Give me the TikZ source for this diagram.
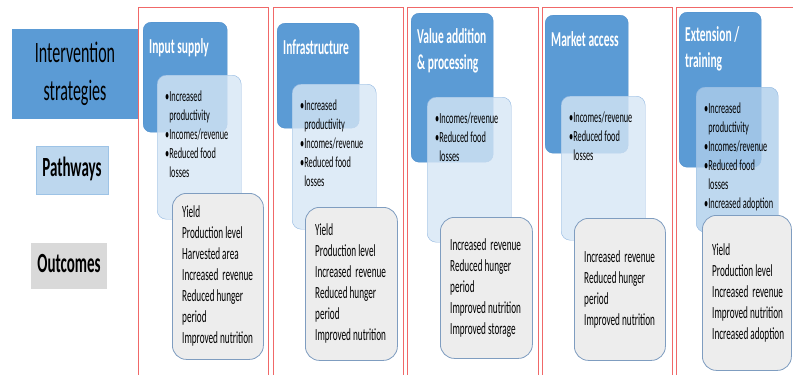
\documentclass[tikz,border=0pt]{standalone}
\usepackage{fontspec}
\setmainfont{Carlito}
\usepackage{graphicx}
\usetikzlibrary{positioning}

\definecolor{stratblue}{HTML}{5B9BD5}
\definecolor{stratedge}{HTML}{4F8ECB}
\definecolor{pathfill}{HTML}{D6E6F5}
\definecolor{pathdark}{HTML}{AECEEB}
\definecolor{pathedge}{HTML}{8FB6E0}
\definecolor{lblblue}{HTML}{BDD7EE}
\definecolor{lbledge}{HTML}{9DC3E6}
\definecolor{outfill}{HTML}{EDEDED}
\definecolor{outedge}{HTML}{7F9DC0}
\definecolor{lblgray}{HTML}{D9D9D9}
\definecolor{framered}{HTML}{F06868}

% tall narrow text block, like the stretched original
\newcommand{\tallrows}[2][l]{\scalebox{1}[1.85]{\begin{tabular}{@{}#1@{}}#2\end{tabular}}}
\newcommand{\bitem}{\textbullet}
\newcommand{\bcont}{\hphantom{\textbullet}}

\tikzset{
  frame/.style={draw=framered, line width=0.9pt},
  lblbox/.style={inner sep=0, font=\fontsize{15}{17}\selectfont\bfseries},
  stratbox/.style={draw=stratedge, fill=stratblue, rounded corners=8pt, anchor=north west, inner sep=0},
  headtext/.style={text=white, inner sep=0, font=\fontsize{11.5}{14.1}\selectfont\bfseries},
  pathbox/.style={draw=pathedge, fill=pathfill, fill opacity=0.8, rounded corners=9pt, anchor=north west, inner sep=0},
  pathtext/.style={inner sep=0, font=\fontsize{8.3}{10.3}\selectfont},
  outbox/.style={draw=outedge, fill=outfill, line width=0.8pt, rounded corners=14pt, anchor=north west, inner sep=0},
  outtext/.style={inner sep=0, font=\fontsize{9.2}{11.35}\selectfont},
}

\begin{document}
\begin{tikzpicture}[x=1pt, y=-1pt]
  \useasboundingbox (0,0) rectangle (793,375);

  % row labels
  \node[lblbox, fill=stratblue, minimum width=126pt, minimum height=90pt, font=\fontsize{16}{20.5}\selectfont] (strat) at (75,74) {\tallrows[c]{Intervention\\strategies}};
  \node[lblbox, fill=lblblue, draw=lbledge, minimum width=72pt, minimum height=48pt] (pathlbl) at (72,170) {\tallrows{Pathways}};
  \node[lblbox, fill=lblgray, minimum width=76pt, minimum height=46pt] (outlbl) at (69,266) {\tallrows{Outcomes}};

  % input supply
  \node[stratbox, minimum width=84pt, minimum height=110pt] (s1) at (143,22) {};
  \node[headtext, below right=13pt and 6pt of s1.north west] (s1t) {\tallrows{Input supply}};
  \node[pathbox, minimum width=84pt, minimum height=144pt] (p1) at (157,75) {};
  \node[pathtext, below right=12.5pt and 8pt of p1.north west] (p1t) {\tallrows{\bitem Increased\\ \bcont productivity\\ \bitem Incomes/revenue\\ \bitem Reduced food\\ \bcont losses}};
  \node[outbox, minimum width=91pt, minimum height=166pt] (o1) at (172,193) {};
  \node[outtext, right=10pt of o1.west] (o1t) {\tallrows{Yield\\ Production level\\ Harvested area\\ Increased~ revenue\\ Reduced hunger\\ period\\ Improved nutrition}};

  % infrastructure
  \node[stratbox, minimum width=82pt, minimum height=105pt] (s2) at (277,23) {};
  \node[headtext, below right=13pt and 6pt of s2.north west] (s2t) {\tallrows{Infrastructure}};
  \node[pathbox, minimum width=84pt, minimum height=145pt] (p2) at (292,84) {};
  \node[pathtext, below right=12.5pt and 8pt of p2.north west] (p2t) {\tallrows{\bitem Increased\\ \bcont productivity\\ \bitem Incomes/revenue\\ \bitem Reduced food\\ \bcont losses}};
  \node[outbox, minimum width=92pt, minimum height=153pt] (o2) at (305,207) {};
  \node[outtext, right=10pt of o2.west] (o2t) {\tallrows{Yield\\ Production level\\ Increased~ revenue\\ Reduced hunger\\ period\\ Improved nutrition}};

  % value addition
  \node[stratbox, minimum width=82pt, minimum height=149pt] (s3) at (411,13) {};
  \node[headtext, below right=12pt and 6pt of s3.north west] (s3t) {\tallrows{Value addition\\ \& processing}};
  \node[pathbox, minimum width=84pt, minimum height=145pt] (p3) at (427,97) {};
  \node[pathtext, below right=13pt and 8pt of p3.north west] (p3t) {\tallrows{\bitem Incomes/revenue\\ \bitem Reduced food\\ \bcont losses}};
  \node[outbox, minimum width=92pt, minimum height=141pt] (o3) at (440,217) {};
  \node[outtext, right=10pt of o3.west] (o3t) {\tallrows{Increased~ revenue\\ Reduced hunger\\ period\\ Improved nutrition\\ Improved storage}};

  % market access
  \node[stratbox, minimum width=83pt, minimum height=138pt] (s4) at (545,15) {};
  \node[headtext, below right=13pt and 6pt of s4.north west] (s4t) {\tallrows{Market access}};
  \node[pathbox, minimum width=84pt, minimum height=144pt] (p4) at (561,96) {};
  \node[pathtext, below right=13pt and 8pt of p4.north west] (p4t) {\tallrows{\bitem Incomes/revenue\\ \bitem Reduced food\\ \bcont losses}};
  \node[outbox, minimum width=91pt, minimum height=142pt] (o4) at (574,218) {};
  \node[outtext, right=10pt of o4.west] (o4t) {\tallrows{Increased~ revenue\\ Reduced hunger\\ period\\ Improved nutrition}};

  % extension / training
  \node[stratbox, minimum width=82pt, minimum height=155pt] (s5) at (679,12) {};
  \node[headtext, below right=11pt and 6pt of s5.north west] (s5t) {\tallrows{Extension /\\ training}};
  \node[pathbox, fill=pathdark, minimum width=82pt, minimum height=145pt] (p5) at (696,87) {};
  \node[pathtext, below right=12.5pt and 8pt of p5.north west] (p5t) {\tallrows{\bitem Increased\\ \bcont productivity\\ \bitem Incomes/revenue\\ \bitem Reduced food\\ \bcont losses\\ \bitem Increased adoption}};
  \node[outbox, minimum width=89pt, minimum height=155pt] (o5) at (702,215) {};
  \node[outtext, right=10pt of o5.west] (o5t) {\tallrows{Yield\\ Production level\\ Increased~ revenue\\ Improved nutrition\\ Increased adoption}};

  % column frames
  \draw[frame] (138,375) -- (138,7) -- (268,7) -- (268,375);
  \draw[frame] (273,375) -- (273,7) -- (403,7) -- (403,375);
  \draw[frame] (407,375) -- (407,7) -- (538,7) -- (538,375);
  \draw[frame] (542,375) -- (542,7) -- (672,7) -- (672,375);
  \draw[frame] (676,375) -- (676,7) -- (793,7);
\end{tikzpicture}
\end{document}
